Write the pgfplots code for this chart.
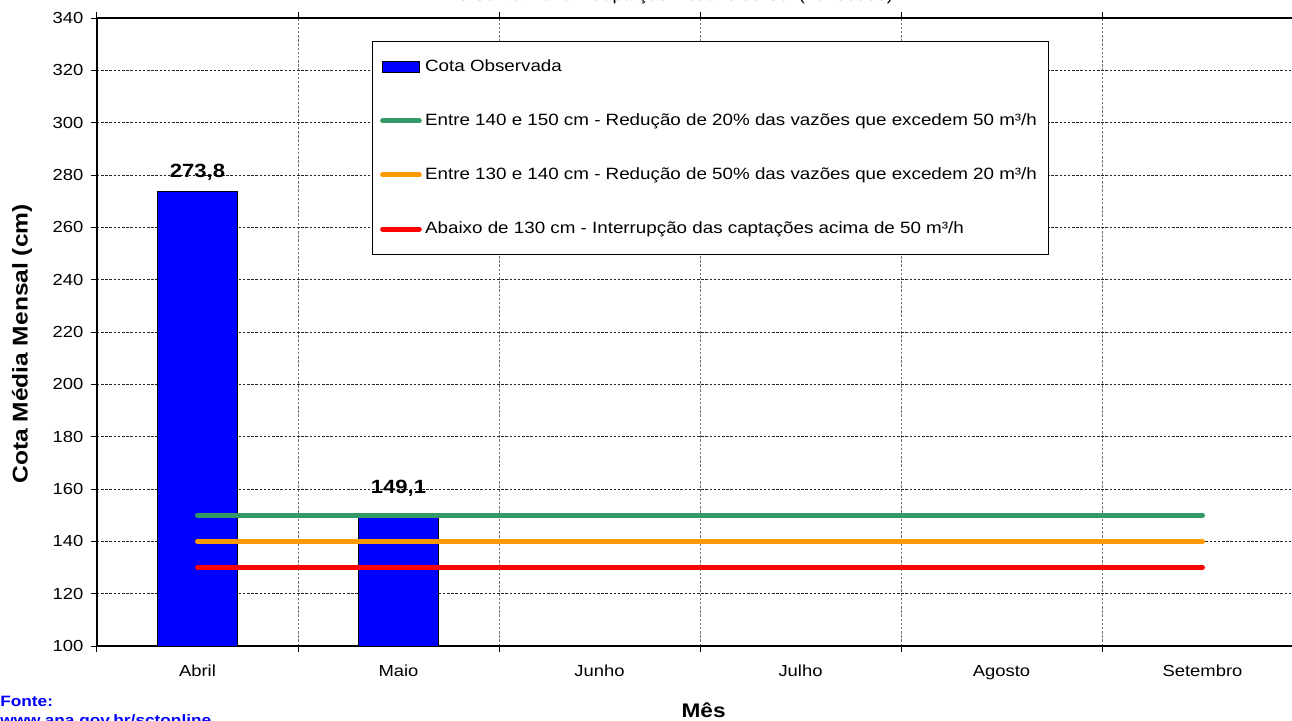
\documentclass[border=0pt]{standalone}
\usepackage{pgfplots}
\usepackage{pgfplotstable}
\pgfplotsset{compat=1.18}
\usepackage{fontspec}
\setmainfont{Liberation Sans}[FakeStretch=1.15]

\definecolor{cotablue}{RGB}{0,0,255}
\definecolor{verde}{RGB}{51,153,102}
\definecolor{laranja}{RGB}{255,153,0}
\definecolor{vermelho}{RGB}{255,0,0}

\pgfplotsset{
  linelegend/.style={legend image code/.code={\draw[##1, line cap=round] (0pt,0pt) -- (22pt,0pt);}},
  barlegend/.style={legend image code/.code={\draw[##1] (0pt,-3.2pt) rectangle (22pt,3.2pt);}},
}

% cota media mensal observada (cm); off = deslocamento do rotulo
\pgfplotstableread{
x y off
0 273.8 3.0
1 149.1 8.8
}\cota

\begin{document}
\begin{tikzpicture}
\begin{axis}[
  name=ax,
  scale only axis, width=723.6pt, height=376.8pt,
  xmin=-0.5, xmax=5.5, ymin=100, ymax=340,
  xtick={-0.5,0.5,...,5.5}, xticklabels={{},{},{},{},{},{},{}},
  extra x ticks={0,1,2,3,4,5},
  extra x tick labels={Abril,Maio,Junho,Julho,Agosto,Setembro},
  extra x tick style={major tick length=0pt, grid=none,
    xticklabel style={yshift=-8pt}},
  ytick={100,120,...,340},
  tick align=outside,
  major tick length=3.6pt,
  xmajorgrids, ymajorgrids,
  major x grid style={dash pattern=on 1.5pt off 1pt, black!55, line width=0.6pt},
  major y grid style={dash pattern=on 1.5pt off 1pt, black!85, line width=0.45pt},
  axis line style={black, line width=0.8pt},
  tick style={black, line width=0.6pt},
  tick label style={font=\fontsize{9.6}{11}\selectfont},
  yticklabel style={xshift=-1pt},
  /pgf/number format/assume math mode=true,
  xlabel={Mês},
  xlabel style={font=\bfseries\fontsize{11.8}{14}\selectfont,
    at={(axis description cs:0.503,-0.1131)}, anchor=base},
  ylabel={Cota Média Mensal (cm)},
  ylabel style={font=\bfseries\fontsize{12.8}{15}\selectfont,
    at={(axis description cs:-0.0622,0.481)}, anchor=center},
  legend style={
    at={(0.228,0.9634)}, anchor=north west,
    draw=black, line width=0.6pt,
    font=\fontsize{9.8}{11}\selectfont,
    cells={anchor=west},
    inner xsep=4.6pt, inner ysep=9pt,
    row sep=19.8pt,
  },
]
\addplot[ybar, bar width=48pt, bar shift=0pt, fill=cotablue, draw=black, line width=0.5pt,
  point meta=y,
  visualization depends on={\thisrow{off}\as\myoff},
  nodes near coords={\pgfmathprintnumber[use comma,fixed,fixed zerofill,precision=1,assume math mode=true]{\pgfplotspointmeta}},
  nodes near coords style={font=\bfseries\fontsize{11.5}{13}\selectfont, yshift=\myoff pt},
  barlegend
] table[x=x, y=y] {\cota};
\addlegendentry{Cota Observada}
\addplot[verde, line width=3pt, line cap=round, linelegend] coordinates {(0,150) (5,150)};
\addlegendentry{Entre 140 e 150 cm - Redução de 20\% das vazões que excedem 50 m³/h}
\addplot[laranja, line width=3pt, line cap=round, linelegend] coordinates {(0,140) (5,140)};
\addlegendentry{Entre 130 e 140 cm - Redução de 50\% das vazões que excedem 20 m³/h}
\addplot[vermelho, line width=3pt, line cap=round, linelegend] coordinates {(0,130) (5,130)};
\addlegendentry{Abaixo de 130 cm - Interrupção das captações acima de 50 m³/h}
\end{axis}

\node[anchor=base, font=\fontsize{9.6}{11}\selectfont]
  at ([shift={(342pt,387.3pt)}]ax.south west)
  {Rio Santa Maria - Captação Rosário do Sul (76100000)};
\node[anchor=base west, inner sep=0pt, text=cotablue, font=\bfseries\fontsize{9}{11}\selectfont]
  at ([shift={(-58.2pt,-36pt)}]ax.south west) {Fonte:};
\node[anchor=base west, inner sep=0pt, text=cotablue, font=\bfseries\fontsize{9}{11}\selectfont]
  at ([shift={(-58.2pt,-47.4pt)}]ax.south west) {www.ana.gov.br/sctonline};

\pgfresetboundingbox
\path[use as bounding box] ([shift={(-58.2pt,-44.4pt)}]ax.south west)
  rectangle ([shift={(717pt,387.6pt)}]ax.south west);
\end{tikzpicture}
\end{document}
